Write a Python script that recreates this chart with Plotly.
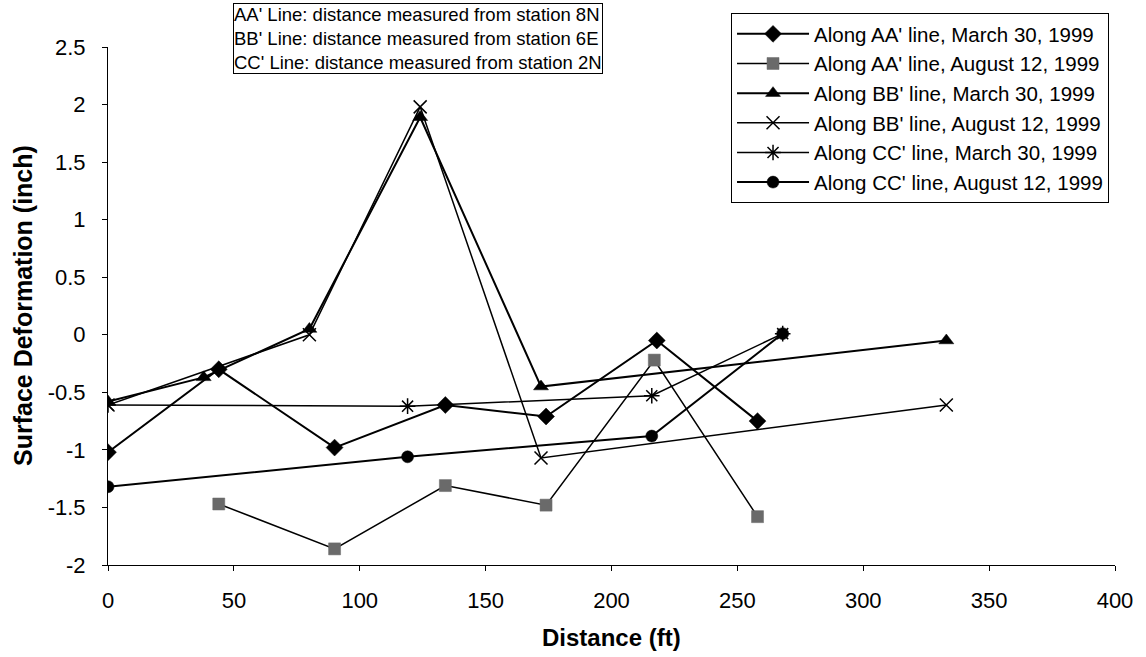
import plotly.graph_objects as go

# Data
aa_mar_x = [0, 44, 90, 134, 174, 218, 258]
aa_mar_y = [-1.02, -0.30, -0.98, -0.61, -0.71, -0.05, -0.75]

aa_aug_x = [44, 90, 134, 174, 217, 258]
aa_aug_y = [-1.47, -1.86, -1.31, -1.48, -0.22, -1.58]

bb_mar_x = [0, 38, 80, 124, 172, 333]
bb_mar_y = [-0.58, -0.37, 0.05, 1.89, -0.45, -0.05]

bb_aug_x = [0, 80, 124, 172, 333]
bb_aug_y = [-0.61, 0.0, 1.98, -1.07, -0.61]

cc_mar_x = [0, 119, 216, 268]
cc_mar_y = [-0.61, -0.62, -0.53, 0.01]

cc_aug_x = [0, 119, 216, 268]
cc_aug_y = [-1.32, -1.06, -0.88, 0.01]

names = [
    "Along AA' line, March 30, 1999",
    "Along AA' line, August 12, 1999",
    "Along BB' line, March 30, 1999",
    "Along BB' line, August 12, 1999",
    "Along CC' line, March 30, 1999",
    "Along CC' line, August 12, 1999",
]
x_ticks = [0, 50, 100, 150, 200, 250, 300, 350, 400]
y_ticks = [-2, -1.5, -1, -0.5, 0, 0.5, 1, 1.5, 2, 2.5]
y_ticktext = ["-2", "-1.5", "-1", "-0.5", "0", "0.5", "1", "1.5", "2", "2.5"]

FONT = "Arial, Liberation Sans, sans-serif"

fig = go.Figure()
styles = [
    ("diamond", 13, "black", 2.0),
    ("square", 12, "#6a6a6a", 1.5),
    ("triangle-up", 13, "black", 2.0),
    ("x-thin-open", 13, "black", 1.5),
    ("asterisk-open", 13, "black", 1.5),
    ("circle", 12, "black", 2.0),
]
data = [(aa_mar_x, aa_mar_y), (aa_aug_x, aa_aug_y), (bb_mar_x, bb_mar_y),
        (bb_aug_x, bb_aug_y), (cc_mar_x, cc_mar_y), (cc_aug_x, cc_aug_y)]
for (xs, ys), (sym, size, mcol, lw), nm in zip(data, styles, names):
    is_open = "open" in sym
    fig.add_trace(go.Scatter(
        x=xs, y=ys, name=nm, mode="lines+markers",
        line=dict(color="black", width=lw),
        marker=dict(symbol=sym, size=size, color=mcol,
                    line=dict(color="black" if is_open else mcol,
                              width=1.5 if is_open else 0.5)),
    ))

fig.add_annotation(
    x=0.1241, y=1.085, xref="paper", yref="paper", xanchor="left", yanchor="top",
    align="left", showarrow=False,
    text="AA' Line: distance measured from station 8N<br>BB' Line: distance measured from station 6E<br>CC' Line: distance measured from station 2N",
    font=dict(family=FONT, size=18.5, color="black"),
    bordercolor="black", borderwidth=1, borderpad=0, bgcolor="white",
)
# axis titles
fig.add_annotation(
    x=0.5, y=-0.14, xref="paper", yref="paper", xanchor="center", yanchor="middle",
    showarrow=False, text="<b>Distance (ft)</b>",
    font=dict(family=FONT, size=24, color="black"),
)
fig.add_annotation(
    x=-0.0844, y=0.5, xref="paper", yref="paper", xanchor="center", yanchor="middle",
    showarrow=False, text="<b>Surface Deformation (inch)</b>", textangle=-90,
    font=dict(family=FONT, size=25, color="black"),
)

fig.update_layout(
    width=1146, height=657,
    margin=dict(l=108, r=31, t=47, b=92),
    paper_bgcolor="white", plot_bgcolor="white",
    font=dict(family=FONT, size=22, color="black"),
    legend=dict(
        x=0.6187, y=1.0656, xanchor="left", yanchor="top",
        bordercolor="black", borderwidth=1, bgcolor="white",
        font=dict(family=FONT, size=20.5, color="black"),
        itemwidth=72, tracegroupgap=0,
    ),
    xaxis=dict(
        range=[0, 400], tickvals=x_ticks,
        showgrid=False, zeroline=False, showline=True, linecolor="black", linewidth=1,
        ticks="outside", ticklen=5, tickcolor="black", ticklabelstandoff=11,
    ),
    yaxis=dict(
        range=[-2, 2.5], tickvals=y_ticks, ticktext=y_ticktext,
        showgrid=False, zeroline=False, showline=True, linecolor="black", linewidth=1,
        ticks="outside", ticklen=5, tickcolor="black", ticklabelstandoff=12,
    ),
)

fig.write_html("out.html", config={"displayModeBar": False},
               post_script="document.body.style.margin='0';")
